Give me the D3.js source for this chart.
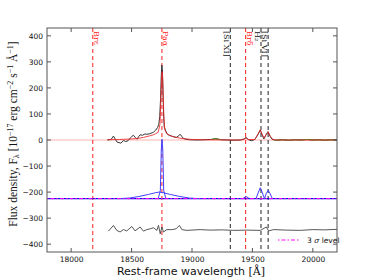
<!DOCTYPE html>
<html><head><meta charset="utf-8">
<script src="https://cdn.jsdelivr.net/npm/d3@7"></script>
<style>html,body{margin:0;padding:0;background:#fff;}</style>
</head><body><div id="chart"></div>
<script>
// ---------- data ----------
const xTicks = [18000, 18500, 19000, 19500, 20000];
const yTicks = [-400, -300, -200, -100, 0, 100, 200, 300, 400];

const specWave = [18300,18330,18350,18365,18380,18410,18435,18450,18470,18490,18502,18516,18530,18545,18560,18571,18590,18610,18626,18650,18670,18681,18700,18715,18725,18733,18740,18745,18750,18755,18760,18765,18770,18780,18792,18810,18830,18850,18870,18890,18902,18915,18930,18950,18980,19040,19100,19160,19190,19210,19240,19300,19350,19400,19430,19447,19465,19490,19520,19545,19565,19580,19595,19610,19629,19645,19665,19690,19750,19800,19850,19900,19950,20000,20050,20100,20150,20200];
const specFlux = [0,2,15,3,-8,-12,-2,-6,-3,8,14,18,10,3,14,20,18,23,22,24,28,30,38,48,60,90,160,240,288,270,180,100,50,38,25,18,15,12,10,16,22,14,6,3,1,0,1,2,5,4,1,0,-1,0,4,10,2,-3,2,20,38,20,4,18,32,15,2,-1,1,-1,1,0,2,0,1,-1,1,0];

const fitWave = [18300,18400,18500,18550,18600,18650,18680,18700,18720,18735,18742,18750,18755,18760,18767,18775,18790,18820,18850,18900,18950,19000,19100,19400,19430,19447,19465,19520,19545,19565,19582,19598,19612,19630,19648,19670,19700,20200];
const fitFlux = [1,2,4,6,10,16,20,24,30,60,150,255,262,200,90,40,25,17,12,7,4,2,1,0,2,8,2,2,22,40,20,8,20,31,14,2,0,0];

const maskRanges = [[19150, 19250], [19670, 20200]];

const compOffset = -225;
const broadWave = [18400,18480,18560,18640,18700,18730,18760,18820,18900,18980,19060];
const broadFlux = [0,2,8,16,23,25,23,16,8,2,0];
const paaWave = [18720,18738,18746,18752,18758,18766,18784];
const paaFlux = [0,30,190,228,190,30,0];
const brdWave = [19420,19440,19447,19455,19475];
const brdFlux = [0,6,9,6,0];
const h2Wave = [19530,19550,19565,19580,19600];
const h2Flux = [0,25,42,25,0];
const si6Wave = [19600,19615,19630,19645,19665];
const si6Flux = [0,20,32,20,0];

const residWave = [18308,18350,18377,18405,18433,18460,18502,18529,18571,18598,18626,18654,18681,18709,18723,18737,18751,18764,18792,18833,18869,18896,18916,18958,19068,19150,19250,19344,19450,19565,19615,19634,19676,19780,19897,20000,20100,20200];
const residFlux = [-350,-328,-347,-353,-344,-349,-332,-349,-334,-350,-344,-341,-337,-347,-328,-360,-334,-353,-344,-344,-341,-328,-344,-347,-344,-346,-345,-347,-346,-347,-334,-349,-344,-346,-347,-344,-345,-343];

const lineNames = ["Br\u03B5", "Pa\u03B1", "[Si XI]", "Br\u03B4", "H\u2082", "[Si VI]"];
const lineWaves = [18179, 18751, 19317, 19444, 19571, 19630];
const lineHydrogen = [true, true, false, true, false, false];

const sigmaLevel = -225;

// ---------- drawing ----------
const W = 374, H = 280;
const L = 47, R = 337, T = 28, B = 252;
const svg = d3.select("#chart").append("svg").attr("width", W).attr("height", H)
  .style("font-family", "DejaVu Sans, sans-serif");

const x = d3.scaleLinear().domain([17800, 20200]).range([L, R]);
const y = d3.scaleLinear().domain([-430, 430]).range([B, T]);

const defs = svg.append("defs");
defs.append("clipPath").attr("id", "clip").append("rect")
  .attr("x", L).attr("y", T).attr("width", R - L).attr("height", B - T);
const g = svg.append("g").attr("clip-path", "url(#clip)");

const zip = (a, b) => a.map((v, i) => [v, b[i]]);
const line = d3.line().x(d => x(d[0])).y(d => y(d[1]));

// zero-level continuum
g.append("path").attr("d", line([[17800, 0], [20200, 0]]))
  .attr("stroke", "rgba(255,80,80,0.45)").attr("stroke-width", 1.2).attr("fill", "none");

// vertical line markers
lineWaves.forEach((w, i) => {
  g.append("line").attr("x1", x(w)).attr("x2", x(w)).attr("y1", T).attr("y2", B)
    .attr("stroke", lineHydrogen[i] ? "#ff2020" : "#222")
    .attr("stroke-width", 1).attr("stroke-dasharray", "4,3");
});

// observed spectrum
const spec = zip(specWave, specFlux);
g.append("path").attr("d", line(spec)).attr("stroke", "#333").attr("stroke-width", 1).attr("fill", "none");
maskRanges.forEach(r => {
  const seg = spec.filter(d => d[0] >= r[0] && d[0] <= r[1]);
  g.append("path").attr("d", line(seg)).attr("stroke", "#3a9a1a").attr("stroke-width", 1).attr("fill", "none");
});
// fit
g.append("path").attr("d", line(zip(fitWave, fitFlux))).attr("stroke", "rgba(235,40,40,0.85)")
  .attr("stroke-width", 1).attr("fill", "none");

// components
g.append("path").attr("d", line([[17800, compOffset], [20200, compOffset]]))
  .attr("stroke", "#1010e0").attr("stroke-width", 1.3).attr("fill", "none");
[[broadWave, broadFlux], [paaWave, paaFlux], [brdWave, brdFlux], [h2Wave, h2Flux], [si6Wave, si6Flux]].forEach(c => {
  g.append("path").attr("d", line(zip(c[0], c[1].map(v => v + compOffset))))
    .attr("stroke", "#4040ff").attr("stroke-width", 1).attr("fill", "none");
});
g.append("path").attr("d", line([[17800, sigmaLevel], [20200, sigmaLevel]]))
  .attr("stroke", "#ff00ff").attr("stroke-width", 1).attr("stroke-dasharray", "1.5,2,4,2").attr("fill", "none");

// residuals
g.append("path").attr("d", line(zip(residWave, residFlux))).attr("stroke", "#444")
  .attr("stroke-width", 0.9).attr("fill", "none");

// line labels
lineWaves.forEach((w, i) => {
  svg.append("text").attr("transform", `translate(${x(w) + (lineHydrogen[i] ? 1 : -6)},${T + 3}) rotate(90)`)
    .attr("font-size", 8).attr("fill", lineHydrogen[i] ? "#ff2020" : "#111")
    .attr("font-family", "DejaVu Serif, serif")
    .text(lineNames[i]);
});

// frame
svg.append("rect").attr("x", L).attr("y", T).attr("width", R - L).attr("height", B - T)
  .attr("fill", "none").attr("stroke", "#555").attr("stroke-width", 1);

// ticks
const tk = 4;
xTicks.forEach(t => {
  svg.append("line").attr("x1", x(t)).attr("x2", x(t)).attr("y1", B).attr("y2", B - tk).attr("stroke", "#555");
  svg.append("line").attr("x1", x(t)).attr("x2", x(t)).attr("y1", T).attr("y2", T + tk).attr("stroke", "#555");
});
yTicks.forEach(t => {
  svg.append("line").attr("x1", L).attr("x2", L + tk).attr("y1", y(t)).attr("y2", y(t)).attr("stroke", "#555");
  svg.append("line").attr("x1", R).attr("x2", R - tk).attr("y1", y(t)).attr("y2", y(t)).attr("stroke", "#555");
});
const xAxis = svg.append("g").attr("transform", `translate(0,${B})`)
  .call(d3.axisBottom(x).tickValues(xTicks).tickSize(0).tickPadding(5).tickFormat(d3.format("d")));
const yAxis = svg.append("g").attr("transform", `translate(${L},0)`)
  .call(d3.axisLeft(y).tickValues(yTicks).tickSize(0).tickPadding(4).tickFormat(d => d < 0 ? "\u2212" + Math.abs(d) : d));
[xAxis, yAxis].forEach(a => {
  a.select(".domain").remove();
  a.selectAll("text").attr("font-size", 7.5).attr("fill", "#111").attr("font-family", "DejaVu Sans, sans-serif");
});

// axis labels
const xl = svg.append("text").attr("x", 191).attr("y", 275).attr("text-anchor", "middle")
  .attr("font-size", 11).attr("fill", "#111");
xl.append("tspan").text("Rest-frame wavelength ");
xl.append("tspan").attr("font-family", "DejaVu Serif, serif").text("[\u00C5]");

const yl = svg.append("text").attr("transform", "translate(17,134) rotate(-90)")
  .attr("text-anchor", "middle").attr("font-size", 11.5).attr("fill", "#111")
  .attr("font-family", "Liberation Serif, serif");
yl.append("tspan").text("Flux density, F");
yl.append("tspan").attr("font-size", 8).attr("dy", 2).text("\u03BB");
yl.append("tspan").attr("dy", -2).text(" [10");
yl.append("tspan").attr("font-size", 8).attr("dy", -4).text("\u221217");
yl.append("tspan").attr("dy", 4).text(" erg cm");
yl.append("tspan").attr("font-size", 8).attr("dy", -4).text("\u22122");
yl.append("tspan").attr("dy", 4).text(" s");
yl.append("tspan").attr("font-size", 8).attr("dy", -4).text("\u22121");
yl.append("tspan").attr("dy", 4).text(" \u00C5");
yl.append("tspan").attr("font-size", 8).attr("dy", -4).text("\u22121");
yl.append("tspan").attr("dy", 4).text("]");

// legend
svg.append("line").attr("x1", 278).attr("x2", 299).attr("y1", 240).attr("y2", 240)
  .attr("stroke", "#ff00ff").attr("stroke-width", 1).attr("stroke-dasharray", "1.5,2,4,2");
const lg = svg.append("text").attr("x", 307).attr("y", 243).attr("font-size", 7.5).attr("fill", "#111");
lg.append("tspan").text("3 ");
lg.append("tspan").attr("font-family", "DejaVu Serif, serif").attr("font-style", "italic").text("\u03C3");
lg.append("tspan").text(" level");
</script>
</body></html>
